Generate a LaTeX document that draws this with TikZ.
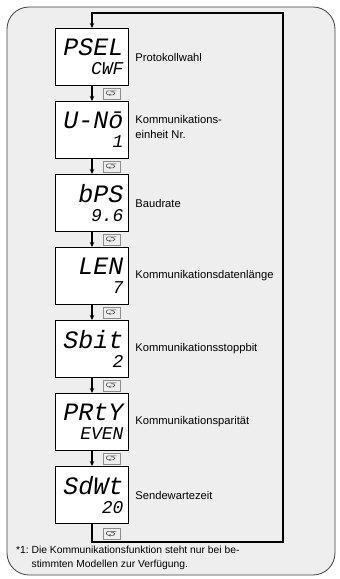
\documentclass[tikz,border=0pt]{standalone}
\usepackage{fontspec}
\setmainfont{Liberation Sans}
\newfontfamily\lcdfont{Liberation Mono}
\usetikzlibrary{positioning,arrows.meta}
\definecolor{panel}{HTML}{EEEEEE}
\definecolor{keygray}{HTML}{8C8C8C}
\newcommand\lcdtop{\lcdfont\itshape\fontsize{25}{25}\selectfont}
\newcommand\lcdbot{\lcdfont\itshape\fontsize{18}{19}\selectfont}

\begin{document}
\begin{tikzpicture}[x=1pt,y=-1pt,>={Stealth[length=5pt,width=4.5pt]},
    disp/.style={draw,line width=1.3pt,fill=white,minimum width=73pt,minimum height=56.7pt,
        text width=63pt,inner xsep=5pt,inner ysep=0pt,align=right},
    label/.style={inner sep=0pt,align=left,font=\fontsize{11.2}{14.5}\selectfont},
    modekey/.style={draw=keygray,fill=panel,line width=0.6pt,minimum width=17pt,minimum height=11pt,inner sep=0pt,
        path picture={\draw[black!70,line width=0.6pt]
            ([shift={(5pt,2.5pt)}]path picture bounding box.center) -- ++(-8pt,0)
            arc[start angle=90,end angle=270,radius=2pt] -- ++(5pt,0)
            arc[start angle=-90,end angle=90,radius=1.5pt] -- ++(-2.5pt,0);
            \draw[black!70,line width=0.6pt] ([shift={(-1pt,-0.5pt)}]path picture bounding box.center)
            -- ++(-1pt,-1pt) -- ++(1pt,-1pt);}},
    loop/.style={line width=2.2pt}]

    \useasboundingbox (0,0) rectangle (340,579);
    \draw[draw=black!75,fill=panel,line width=0.8pt,rounded corners=22pt] (7,7) rectangle (335,575);

    % displays
    \node[disp] (1) at (92,57) {\lcdtop PSEL\\\lcdbot CWF\par};
    \node[disp] (2) [below=15pt of 1] {\lcdtop U-Nō\\\lcdbot 1\par};
    \node[disp] (3) [below=15pt of 2] {\lcdtop bPS\\\lcdbot 9.6\par};
    \node[disp] (4) [below=15pt of 3] {\lcdtop LEN\\\lcdbot 7\par};
    \node[disp] (5) [below=15pt of 4] {\lcdtop Sbit\\\lcdbot 2\par};
    \node[disp] (6) [below=15pt of 5] {\lcdtop PRtY\\\lcdbot EVEN\par};
    \node[disp] (7) [below=15pt of 6] {\lcdtop SdWt\\\lcdbot 20\par};

    % labels
    \node[label] (8) [right=6pt of 1] {Protokollwahl};
    \node[label] (9) [right=6pt of 2, yshift=3pt] {Kommunikations-\\einheit Nr.};
    \node[label] (10) [right=6pt of 3] {Baudrate};
    \node[label] (11) [right=6pt of 4] {Kommunikationsdatenlänge};
    \node[label] (12) [right=6pt of 5] {Kommunikationsstoppbit};
    \node[label] (13) [right=6pt of 6] {Kommunikationsparität};
    \node[label] (14) [right=6pt of 7] {Sendewartezeit};

    % mode keys
    \node[modekey] (15) [below left=1.5pt and 9pt of 1.south east] {};
    \node[modekey] (16) [below left=1.5pt and 9pt of 2.south east] {};
    \node[modekey] (17) [below left=1.5pt and 9pt of 3.south east] {};
    \node[modekey] (18) [below left=1.5pt and 9pt of 4.south east] {};
    \node[modekey] (19) [below left=1.5pt and 9pt of 5.south east] {};
    \node[modekey] (20) [below left=1.5pt and 9pt of 6.south east] {};
    \node[modekey] (21) [below left=4pt and 9pt of 7.south east] {};

    \node[anchor=north west,inner sep=0pt,font=\fontsize{10.3}{14}\selectfont] (22) at (16,546)
        {*1:\ \parbox[t]{230pt}{Die Kommunikationsfunktion steht nur bei be-\\stimmten Modellen zur Verfügung.}};

    \coordinate (23) at (283,542);
    \coordinate (24) at (283,13);

    \path[->,line width=1.3pt]
    (1) edge (2)
    (2) edge (3)
    (3) edge (4)
    (4) edge (5)
    (5) edge (6)
    (6) edge (7)
    ;
    \draw[loop,->] (7) |- (23) -- (24) -| (1);
\end{tikzpicture}
\end{document}
